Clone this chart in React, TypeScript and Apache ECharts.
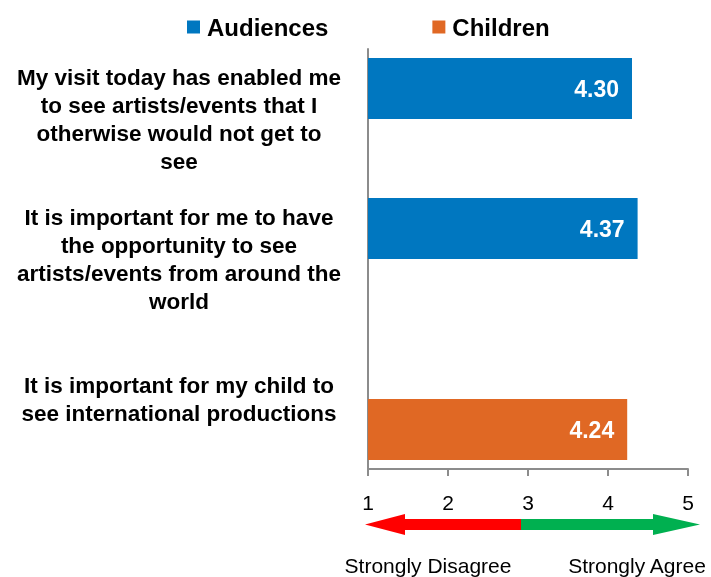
import React, { useEffect, useRef } from "react";
import * as echarts from "echarts";

const categories = [
  "My visit today has enabled me\nto see artists/events that I\notherwise would not get to\nsee",
  "It is important for me to have\nthe opportunity to see\nartists/events from around the\nworld",
  "It is important for my child to\nsee international productions",
];
const seriesNames = ["Audiences", "Children"];
const audiencesValues: (number | string)[] = [4.3, 4.37, "-"];
const childrenValues: (number | string)[] = ["-", "-", 4.24];
const xTicks = [1, 2, 3, 4, 5];
const scaleLabels = ["Strongly Disagree", "Strongly Agree"];

const FONT = "'Liberation Sans', Arial, sans-serif";
const BLUE = "#0077C0";
const ORANGE = "#E06824";
const AXIS = "#8C8C8C";

export default function App() {
  const ref = useRef<HTMLDivElement>(null);
  useEffect(() => {
    if (!ref.current) return;
    const chart = echarts.init(ref.current, undefined, { renderer: "svg" });
    const barLabel = {
      show: true,
      position: "insideRight",
      distance: 13,
      color: "#fff",
      fontSize: 23,
      fontWeight: "bold",
      fontFamily: FONT,
      formatter: (p: any) => Number(p.value).toFixed(2),
    };
    chart.setOption({
      animation: false,
      textStyle: { fontFamily: FONT },
      legend: {
        data: seriesNames,
        left: 182,
        top: 10,
        itemWidth: 13,
        itemHeight: 13,
        itemGap: 104,
        icon: "rect",
        textStyle: {
          fontSize: 24,
          fontWeight: "bold",
          color: "#000",
          fontFamily: FONT,
          lineHeight: 24,
          padding: [0, 0, 0, 2],
        },
      },
      grid: { left: 368, right: 23, top: 49, bottom: 108, containLabel: false },
      xAxis: {
        type: "value",
        min: xTicks[0],
        max: xTicks[xTicks.length - 1],
        interval: 1,
        splitLine: { show: false },
        axisLine: { show: true, lineStyle: { color: AXIS, width: 2 } },
        axisTick: { show: true, length: 7, lineStyle: { color: AXIS, width: 2 } },
        axisLabel: { fontSize: 21, color: "#000", margin: 23, fontFamily: FONT },
      },
      yAxis: {
        type: "category",
        data: categories,
        inverse: true,
        axisTick: { show: false },
        axisLine: { show: true, lineStyle: { color: AXIS, width: 2 } },
        axisLabel: {
          margin: 20,
          formatter: (v: string) =>
            v
              .split("\n")
              .map((l) => "{c|" + l + "}")
              .join("\n"),
          rich: {
            c: {
              width: 338,
              align: "center",
              fontSize: 22.5,
              fontWeight: "bold",
              color: "#000",
              lineHeight: 28,
              fontFamily: FONT,
            },
          },
        },
      },
      series: [
        {
          name: seriesNames[0],
          type: "bar",
          data: audiencesValues,
          barWidth: 61,
          barGap: "0%",
          itemStyle: { color: BLUE },
          label: barLabel,
        },
        {
          name: seriesNames[1],
          type: "bar",
          data: childrenValues,
          barWidth: 61,
          barGap: "0%",
          itemStyle: { color: ORANGE },
          label: barLabel,
        },
      ],
      graphic: [
        {
          type: "polygon",
          shape: {
            points: [
              [365, 524.5],
              [405, 514],
              [405, 519],
              [521, 519],
              [521, 530],
              [405, 530],
              [405, 535],
            ],
          },
          style: { fill: "#FF0000" },
        },
        {
          type: "polygon",
          shape: {
            points: [
              [700, 524.5],
              [653, 514],
              [653, 519],
              [521, 519],
              [521, 530],
              [653, 530],
              [653, 535],
            ],
          },
          style: { fill: "#00B050" },
        },
        {
          type: "text",
          x: 428,
          y: 565,
          style: {
            text: scaleLabels[0],
            fontSize: 21,
            fill: "#000",
            align: "center",
            verticalAlign: "middle",
            fontFamily: FONT,
          },
        },
        {
          type: "text",
          x: 637,
          y: 565,
          style: {
            text: scaleLabels[1],
            fontSize: 21,
            fill: "#000",
            align: "center",
            verticalAlign: "middle",
            fontFamily: FONT,
          },
        },
      ],
    });
    return () => chart.dispose();
  }, []);
  return <div ref={ref} style={{ width: 711, height: 577, position: "fixed", left: 0, top: 0 }} />;
}
